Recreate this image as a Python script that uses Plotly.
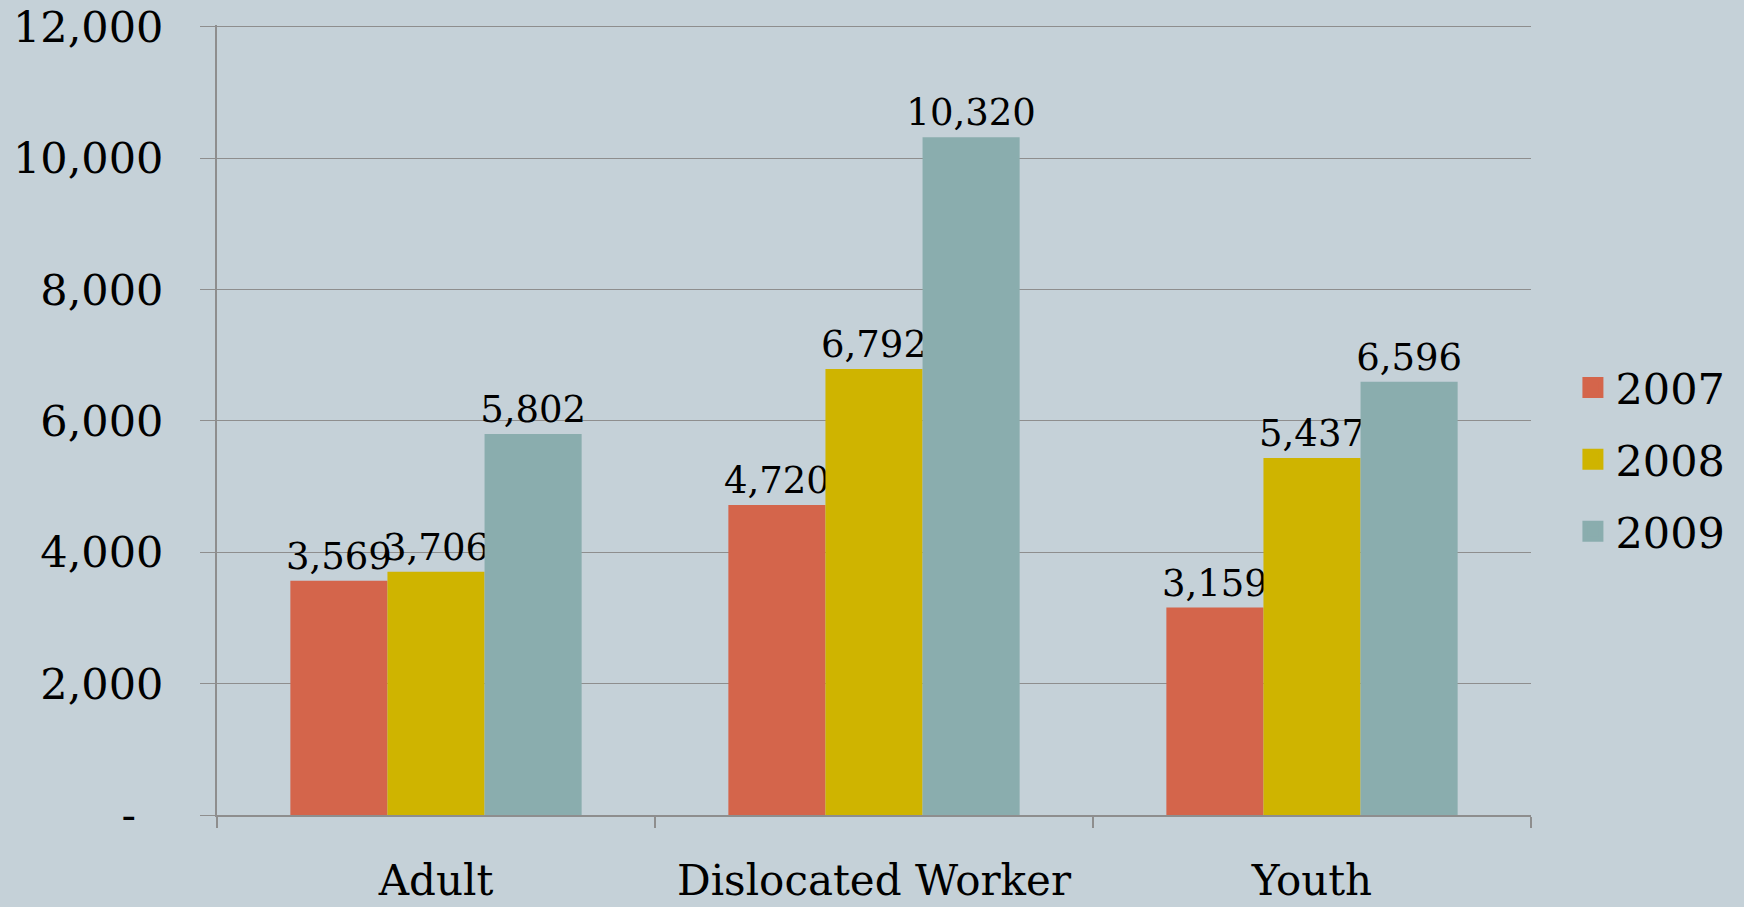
import plotly.graph_objects as go

categories = ["Adult", "Dislocated Worker", "Youth"]
years = ["2007", "2008", "2009"]
values_2007 = [3569, 4720, 3159]
values_2008 = [3706, 6792, 5437]
values_2009 = [5802, 10320, 6596]
colors = ["#D4654B", "#CFB400", "#8AADAE"]
y_ticks = [0, 2000, 4000, 6000, 8000, 10000, 12000]
y_ticktext = ["-\u00a0\u00a0", "2,000", "4,000", "6,000", "8,000", "10,000", "12,000"]

FONT = "DejaVu Serif"
BG = "#C5D1D8"
GRID = "#8E8E8E"

fig = go.Figure()
for yr, vals, col in zip(years, [values_2007, values_2008, values_2009], colors):
    fig.add_trace(go.Bar(
        x=categories, y=vals, name=yr, marker=dict(color=col, line=dict(width=0)),
        texttemplate="%{y:,}", textposition="outside", constraintext="none",
        cliponaxis=False, textfont=dict(family=FONT, size=37, color="black"),
        showlegend=False,
    ))
# legend proxies
for yr, col in zip(years, colors):
    fig.add_trace(go.Scatter(
        x=[None], y=[None], mode="markers", name=yr, legendgroup=yr,
        marker=dict(symbol="square", size=25, color=col, line=dict(color=col, width=5)),
    ))

fig.update_layout(
    width=1744, height=907,
    paper_bgcolor=BG, plot_bgcolor=BG,
    margin=dict(l=217, r=213, t=25, b=92, autoexpand=False),
    barmode="group", bargap=0.335, bargroupgap=0,
    font=dict(family=FONT, color="black"),
    legend=dict(
        x=1.03, xanchor="left", y=0.45, yanchor="middle",
        font=dict(family=FONT, size=43, color="black"),
        bgcolor="rgba(0,0,0,0)", traceorder="grouped", tracegroupgap=13,
        itemwidth=35,
    ),
    xaxis=dict(
        type="category", showline=True, linecolor=GRID, linewidth=2, automargin=False,
        ticks="outside", tickson="boundaries", ticklen=11, tickcolor=GRID, tickwidth=1.5,
        tickfont=dict(family=FONT, size=42, color="black"), showgrid=False,
        ticklabelstandoff=28, ticklabeloverflow="allow",
    ),
    yaxis=dict(
        range=[0, 12030], tickvals=y_ticks, ticktext=y_ticktext, automargin=False,
        showline=True, linecolor=GRID, linewidth=2,
        showgrid=True, gridcolor=GRID, gridwidth=1.3, zeroline=False,
        ticks="outside", ticklen=15, tickcolor=GRID, tickwidth=1.3,
        tickfont=dict(family=FONT, size=43, color="black"),
        ticklabelstandoff=28, ticklabeloverflow="allow",
    ),
)

fig.write_html(
    "out.html",
    config={"displayModeBar": False},
    post_script="document.body.style.margin='0';document.body.style.overflow='hidden';",
)
